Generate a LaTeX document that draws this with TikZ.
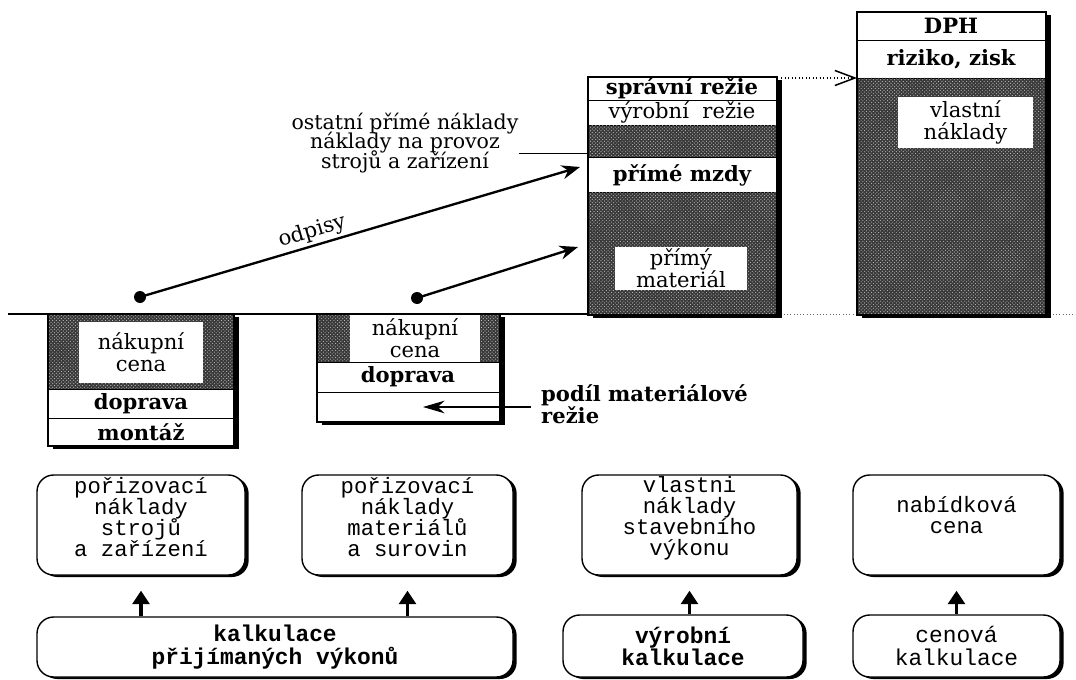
\documentclass[tikz,border=0pt]{standalone}
\usepackage{fontspec}
\setmainfont{DejaVu Serif}
\newfontfamily\monofam{Liberation Mono}
\usetikzlibrary{arrows.meta,patterns,shadows}
% fixed line pitch inside multi-line labels
\newcommand\tightlines{\lineskiplimit=-40pt\lineskip=0pt}

\begin{document}
\begin{tikzpicture}[x=0.03cm,y=-0.03cm,
  lbl/.style={font=\fontsize{18}{18.5}\selectfont\tightlines, align=center, inner sep=0pt},
  lblb/.style={font=\fontsize{18}{18.5}\selectfont\bfseries\tightlines, align=center, inner sep=0pt},
  sect/.style={draw=black, line width=0.6pt, fill=white},
  dark/.style={draw=black, line width=0.6pt, fill=black!78,
    postaction={pattern=crosshatch dots, pattern color=black!25}},
  hole/.style={lbl, fill=white},
  frame/.style={draw=black, line width=1.2pt},
  shade/.style={fill=black},
  dot/.style={circle, fill=black, inner sep=0pt, minimum size=0.36cm},
  bigarrow/.style={line width=2pt, -{Stealth[length=0.55cm,width=0.42cm]}},
  smallarrow/.style={line width=0.9pt, -{Stealth[length=0.65cm,width=0.38cm]}},
  uparrow/.style={line width=3.2pt, -{Triangle[length=0.4cm,width=0.5cm]}},
  card/.style={rectangle, rounded corners=0.5cm, draw=black, line width=1.2pt, fill=white,
    drop shadow={shadow xshift=0.11cm, shadow yshift=-0.06cm, fill=black, opacity=1}},
  cardtext/.style={font=\monofam\fontsize{19}{18}\selectfont\tightlines, align=center, inner sep=0pt},
  cardtextb/.style={font=\monofam\fontsize{19.5}{19}\selectfont\bfseries\tightlines, align=center, inner sep=0pt},
]
\useasboundingbox (0,0) rectangle (1076,679);

% ground line
\draw[line width=1pt] (8,314) -- (600,314);
\draw[dotted, line width=0.8pt, black!60] (600,314) -- (1076,314);

% ---- purchase of machines
\fill[shade] (53,317) rectangle (239,449);
\draw[dark] (48,314) rectangle (234,389);
\node[hole, minimum width=3.69cm, minimum height=1.83cm] (aCena) at (141,352.5) {nákupní\\cena};
\draw[sect] (48,389) rectangle (234,418);
\node[lblb] (aDop) at (141,403.5) {doprava};
\draw[sect] (48,418) rectangle (234,446);
\node[lblb] (aMon) at (141,432) {montáž};
\draw[frame] (48,314) rectangle (234,446);

% ---- purchase of materials
\fill[shade] (322,317) rectangle (505,425);
\draw[dark] (317,314) rectangle (500,362);
\node[hole, minimum width=3.9cm, minimum height=1.41cm] (bCena) at (415,338.5) {nákupní\\cena};
\draw[sect] (317,362) rectangle (500,392);
\node[lblb] (bDop) at (408,377) {doprava};
\draw[sect] (317,392) rectangle (500,422);
\coordinate (bPod) at (423,407);
\draw[frame] (317,314) rectangle (500,422);

\node[lblb, anchor=west, align=left] (podil) at (541,404) {podíl materiálové\\režie};
\coordinate (podS) at (531,407);
\draw[smallarrow] (podS) -- (bPod);

% ---- production costs
\fill[shade] (593,80) rectangle (782,318);
\draw[sect] (588,77) rectangle (777,100);
\node[lblb] (cSpr) at (682,88.5) {správní režie};
\draw[sect] (588,100) rectangle (777,125);
\node[lbl] (cVyr) at (682,112) {výrobní\ \ režie};
\draw[dark] (588,125) rectangle (777,157);
\draw[sect] (588,157) rectangle (777,192);
\node[lblb] (cMzdy) at (682,175) {přímé mzdy};
\draw[dark] (588,192) rectangle (777,315);
\node[hole, minimum width=3.96cm, minimum height=1.29cm] (cMat) at (681,268.5) {přímý\\materiál};
\draw[frame] (588,77) rectangle (777,315);
\coordinate (cOst) at (588,153);
\coordinate (cTop) at (781,78);

% ---- offer price
\fill[shade] (862,15) rectangle (1051,318);
\draw[sect] (857,12) rectangle (1046,40);
\node[lblb] (dDph) at (951,26) {DPH};
\draw[sect] (857,40) rectangle (1046,78);
\node[lblb] (dRiz) at (951,59) {riziko, zisk};
\draw[dark] (857,78) rectangle (1046,315);
\node[hole, minimum width=4.05cm, minimum height=1.53cm] (dVl) at (965.5,122.5) {vlastní\\náklady};
\draw[frame] (857,12) rectangle (1046,315);
\coordinate (dLeft) at (857,78);

\draw[dotted, line width=1pt, -{Straight Barb[length=0.6cm,width=0.45cm,line width=1.3pt]}] (cTop) -- (dLeft);

% ---- flows into the production costs
\node[lbl, font=\fontsize{17.5}{17}\selectfont\tightlines] (ost) at (405,143) {ostatní přímé náklady\\náklady na provoz\\strojů a zařízení};
\draw[line width=0.8pt] (ost.east |- cOst) -- (cOst);

\node[dot] (d1) at (140,297) {};
\coordinate (t1) at (580,167);
\draw[bigarrow] (d1.center) -- (t1) node[pos=0.4, sloped, above, inner sep=2pt, font=\fontsize{18}{18}\selectfont] (odp) {odpisy};

\node[dot] (d2) at (417,298) {};
\coordinate (t2) at (578,247);
\draw[bigarrow] (d2.center) -- (t2);

% ---- result boxes
\node[card, minimum width=6.24cm, minimum height=3.0cm] (pStroj) at (141,525) {};
\node[cardtext, anchor=north] (pStrojT) at (141,477) {pořizovací\\náklady\\strojů\\a zařízení};
\node[card, minimum width=6.33cm, minimum height=3.0cm] (pMat) at (407.5,525) {};
\node[cardtext, anchor=north] (pMatT) at (407.5,477) {pořizovací\\náklady\\materiálů\\a surovin};
\node[card, minimum width=6.45cm, minimum height=3.0cm] (vlN) at (689.5,525) {};
\node[cardtext, anchor=north] (vlNT) at (689.5,476) {vlastni\\náklady\\stavebního\\výkonu};
\node[card, minimum width=6.21cm, minimum height=3.0cm] (nabC) at (956.5,525) {};
\node[cardtext, anchor=north] (nabCT) at (956.5,496) {nabídková\\cena};

% ---- calculation boxes
\node[card, cardtextb, minimum width=14.28cm, minimum height=1.8cm] (kPrij) at (275,647) {kalkulace\\přijímaných výkonů};
\node[card, cardtextb, minimum width=7.2cm, minimum height=1.86cm] (kVyr) at (683,646) {výrobní\\kalkulace};
\node[card, cardtext, font=\monofam\fontsize{19.5}{19}\selectfont\tightlines, minimum width=6.21cm, minimum height=1.86cm] (kCen) at (956.5,646) {cenová\\kalkulace};

\draw[uparrow] (kPrij.north -| pStroj.south) -- ([yshift=-0.45cm]pStroj.south);
\draw[uparrow] (kPrij.north -| pMat.south) -- ([yshift=-0.45cm]pMat.south);
\draw[uparrow] (kVyr.north -| vlN.south) -- ([yshift=-0.45cm]vlN.south);
\draw[uparrow] (kCen.north -| nabC.south) -- ([yshift=-0.45cm]nabC.south);

\end{tikzpicture}
\end{document}
